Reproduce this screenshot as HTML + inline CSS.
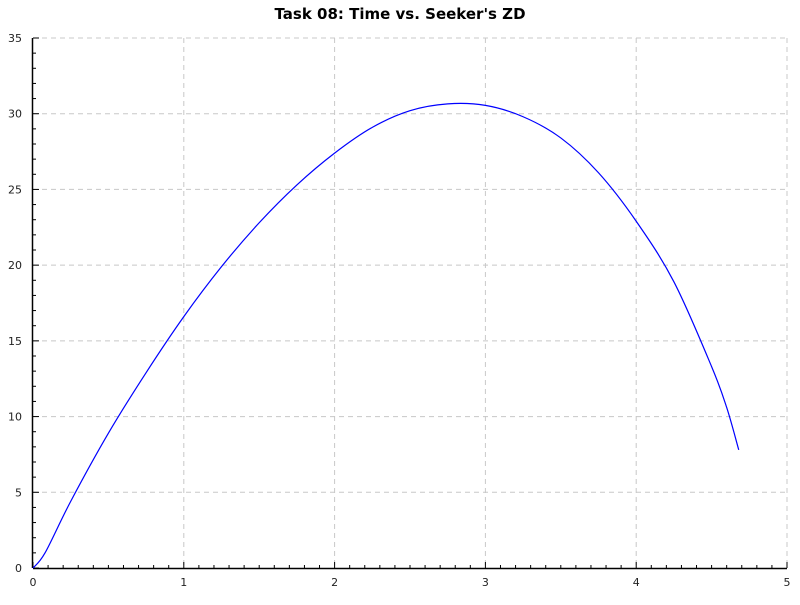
<!DOCTYPE html>
<html><head><meta charset="utf-8"><style>
body{margin:0;background:#fff;}
svg text{font-family:"DejaVu Sans","Liberation Sans",sans-serif;}
</style></head><body>
<svg id="chart" width="800" height="600">
<text x="400" y="19" text-anchor="middle" font-size="15" font-weight="bold" fill="#000">Task 08: Time vs. Seeker's ZD</text>
<g id="grid"></g>
<g id="axes"></g>
<path id="line" fill="none" stroke="#0000ff" stroke-width="1.2"/>
</svg>
<script>
const times=[0,0.08,0.25,0.5,0.75,1,1.25,1.5,1.75,2,2.25,2.5,2.75,3,3.25,3.5,3.75,4,4.25,4.5,4.6,4.68];
const zd=[0,1.0,4.4,8.9,12.9,16.6,19.9,22.8,25.3,27.4,29.1,30.2,30.65,30.55,29.8,28.4,26.1,22.9,18.9,13.3,10.6,7.8];
const xTicks=[0,1,2,3,4,5];
const yTicks=[0,5,10,15,20,25,30,35];
const X0=33,X1=787,Y0=568,Y1=38,xMax=5,yMax=35;
const sx=v=>X0+(X1-X0)*v/xMax, sy=v=>Y0-(Y0-Y1)*v/yMax;
const NS="http://www.w3.org/2000/svg";
const grid=document.getElementById('grid'),axes=document.getElementById('axes');
function mk(t,a,p){const e=document.createElementNS(NS,t);for(const k in a)e.setAttribute(k,a[k]);p.appendChild(e);return e;}
xTicks.forEach(v=>{
 if(v>0){const g=mk('line',{x1:sx(v),x2:sx(v),y1:Y1,y2:Y0,stroke:'#c8c8c8','stroke-dasharray':'5,4'},grid);
 
 }
 const t=mk('text',{x:sx(v),y:Y0+18,'text-anchor':'middle','font-size':11,fill:'#222'},axes);t.textContent=v;
 
 
});
yTicks.forEach(v=>{
 if(v>0){const g=mk('line',{x1:X0,x2:X1,y1:sy(v),y2:sy(v),stroke:'#c8c8c8','stroke-dasharray':'5,4'},grid);
 
 }
 const t=mk('text',{x:X0-11,y:sy(v)+4,'text-anchor':'end','font-size':11,fill:'#222'},axes);t.textContent=v;
 
 
});
for(let i=0;i<=50;i++){const x=sx(i/10);mk('line',{x1:x,x2:x,y1:Y0,y2:Y0-(i%10==0?6:3),stroke:'#000'},axes);}
for(let i=0;i<=35;i++){const y=sy(i);mk('line',{x1:X0,x2:X0+(i%5==0?6:3),y1:y,y2:y,stroke:'#000'},axes);}
mk('line',{x1:X0,x2:X1,y1:Y0+0.5,y2:Y0+0.5,stroke:'#000','stroke-width':1.5},axes);
mk('line',{x1:X0-0.5,x2:X0-0.5,y1:Y1,y2:Y0,stroke:'#000','stroke-width':1.5},axes);
const P=times.map((t,i)=>[sx(t),sy(zd[i])]);
let d=`M${P[0][0]},${P[0][1]}`;
for(let i=0;i<P.length-1;i++){const p0=P[Math.max(0,i-1)],p1=P[i],p2=P[i+1],p3=P[Math.min(P.length-1,i+2)];
 d+=` C${p1[0]+(p2[0]-p0[0])/6},${p1[1]+(p2[1]-p0[1])/6} ${p2[0]-(p3[0]-p1[0])/6},${p2[1]-(p3[1]-p1[1])/6} ${p2[0]},${p2[1]}`;}
document.getElementById('line').setAttribute('d',d);
</script>
</body></html>
